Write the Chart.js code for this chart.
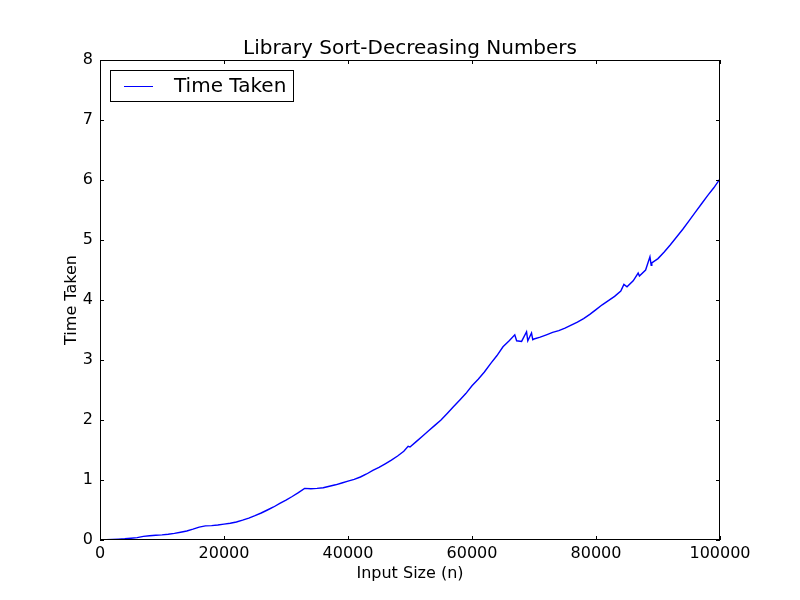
<!DOCTYPE html>
<html>
<head>
<meta charset="utf-8">
<script src="https://cdn.jsdelivr.net/npm/chart.js@4.4.1/dist/chart.umd.min.js"></script>
<style>
    body { margin: 0; background: #ffffff; }
</style>
</head>
<body>
<canvas id="graficoOrdenacao" width="800" height="600"></canvas>
<script>
const tituloGrafico = 'Library Sort-Decreasing Numbers';
const rotuloSerie = 'Time Taken';

// tamanho da entrada (n)
const tamanhos = [
    0, 1000, 2000, 3000, 4000, 5000, 6000, 7000, 8000, 9000,
    10000, 11000, 12000, 13000, 14000, 15000, 16000, 17000, 18000, 19000,
    20000, 21000, 22000, 23000, 24000, 25000, 26000, 27000, 28000, 29000,
    30000, 31000, 32000, 33000, 34000, 35000, 36000, 37000, 38000, 39000,
    40000, 41000, 42000, 43000, 44000, 45000, 46000, 47000, 48000, 49000,
    49700, 50000, 51000, 52000, 53000, 54000, 55000, 56000, 57000, 58000,
    59000, 60000, 61000, 62000, 63000, 64000, 65000, 66000, 66900, 67200,
    68000, 68800, 69000, 69600, 69800, 70000, 71000, 72000, 73000, 74000,
    75000, 76000, 77000, 78000, 79000, 80000, 81000, 82000, 83000, 84000,
    84500, 85000, 86000, 86800, 87000, 88000, 88700, 88900, 89000, 90000,
    91000, 92000, 93000, 94000, 95000, 96000, 97000, 98000, 99000, 100000
];

// tempo gasto
const tempos = [
    0, 0.005, 0.01, 0.015, 0.02, 0.03, 0.04, 0.06, 0.07, 0.078,
    0.085, 0.095, 0.11, 0.13, 0.15, 0.18, 0.215, 0.235, 0.24, 0.25,
    0.265, 0.28, 0.30, 0.33, 0.365, 0.405, 0.45, 0.50, 0.55, 0.61,
    0.665, 0.725, 0.79, 0.86, 0.855, 0.86, 0.87, 0.895, 0.92, 0.95,
    0.98, 1.01, 1.05, 1.10, 1.16, 1.21, 1.27, 1.33, 1.40, 1.48,
    1.56, 1.55, 1.64, 1.73, 1.82, 1.91, 2.00, 2.11, 2.22, 2.33,
    2.44, 2.57, 2.68, 2.80, 2.94, 3.07, 3.22, 3.32, 3.42, 3.32,
    3.31, 3.47, 3.32, 3.45, 3.34, 3.35, 3.38, 3.42, 3.46, 3.49,
    3.53, 3.58, 3.63, 3.69, 3.76, 3.84, 3.92, 3.99, 4.06, 4.15,
    4.26, 4.22, 4.32, 4.45, 4.40, 4.50, 4.72, 4.58, 4.62, 4.69,
    4.80, 4.92, 5.05, 5.18, 5.32, 5.46, 5.60, 5.74, 5.87, 6.02
];

const ticksX = [0, 20000, 40000, 60000, 80000, 100000];
const ticksY = [0, 1, 2, 3, 4, 5, 6, 7, 8];

const fonte = 'DejaVu Sans';

// moldura no estilo do matplotlib: caixa, ticks para dentro, legenda e titulo
const molduraMatplotlib = {
    id: 'molduraMatplotlib',
    afterDraw(chart) {
        const ctx = chart.ctx;
        const area = chart.chartArea;
        const escalaX = chart.scales.x;
        const escalaY = chart.scales.y;
        ctx.save();
        ctx.strokeStyle = '#000000';
        ctx.lineWidth = 1;
        ctx.strokeRect(area.left + 0.5, area.top + 0.5, area.right - area.left - 1, area.bottom - area.top - 1);

        ctx.beginPath();
        ticksX.forEach(v => {
            let px = Math.round(escalaX.getPixelForValue(v)) + 0.5;
            ctx.moveTo(px, area.bottom);
            ctx.lineTo(px, area.bottom - 4);
            ctx.moveTo(px, area.top);
            ctx.lineTo(px, area.top + 4);
        });
        ticksY.forEach(v => {
            let py = Math.round(escalaY.getPixelForValue(v)) + 0.5;
            ctx.moveTo(area.left, py);
            ctx.lineTo(area.left + 4, py);
            ctx.moveTo(area.right, py);
            ctx.lineTo(area.right - 4, py);
        });
        ctx.stroke();

        // titulo
        ctx.fillStyle = '#000000';
        ctx.font = '20px "' + fonte + '"';
        ctx.textAlign = 'center';
        ctx.textBaseline = 'alphabetic';
        ctx.fillText(tituloGrafico, (area.left + area.right) / 2, 54);

        // legenda
        ctx.fillStyle = '#ffffff';
        ctx.fillRect(110.5, 70.5, 183, 31);
        ctx.strokeRect(110.5, 70.5, 183, 31);
        ctx.strokeStyle = '#0000ff';
        ctx.beginPath();
        ctx.moveTo(124, 86.5);
        ctx.lineTo(153, 86.5);
        ctx.stroke();
        ctx.fillStyle = '#000000';
        ctx.textAlign = 'left';
        ctx.textBaseline = 'middle';
        ctx.fillText(rotuloSerie, 174, 87);
        ctx.restore();
    }
};

const graficoOrdenacao = new Chart(document.getElementById('graficoOrdenacao'), {
    type: 'line',
    data: {
        labels: tamanhos,
        datasets: [{
            label: rotuloSerie,
            data: tamanhos.map((n, i) => ({ x: n, y: tempos[i] })),
            borderColor: '#0000ff',
            backgroundColor: '#0000ff',
            borderWidth: 1.4,
            pointRadius: 0,
            tension: 0,
            fill: false
        }]
    },
    options: {
        responsive: false,
        animation: false,
        devicePixelRatio: 1,
        layout: { padding: { top: 60, right: 80, left: 0, bottom: 0 } },
        plugins: {
            legend: { display: false },
            title: { display: false },
            tooltip: { enabled: false }
        },
        scales: {
            x: {
                type: 'linear',
                position: 'bottom',
                min: 0,
                max: 100000,
                afterBuildTicks: escala => { escala.ticks = ticksX.map(v => ({ value: v })); },
                afterFit: escala => { escala.height = 60; },
                grid: { display: false, drawTicks: false },
                border: { display: false },
                ticks: {
                    color: '#000000',
                    font: { family: fonte, size: 16 },
                    padding: 4,
                    maxRotation: 0,
                    autoSkip: false,
                    callback: v => String(v)
                },
                title: {
                    display: true,
                    text: 'Input Size (n)',
                    color: '#000000',
                    font: { family: fonte, size: 16 },
                    padding: { top: 0, bottom: 17 }
                }
            },
            y: {
                type: 'linear',
                min: 0,
                max: 8,
                afterBuildTicks: escala => { escala.ticks = ticksY.map(v => ({ value: v })); },
                afterFit: escala => { escala.width = 100; },
                grid: { display: false, drawTicks: false },
                border: { display: false },
                ticks: {
                    color: '#000000',
                    font: { family: fonte, size: 16 },
                    padding: 7,
                    autoSkip: false,
                    callback: v => String(v)
                },
                title: {
                    display: true,
                    text: 'Time Taken',
                    color: '#000000',
                    font: { family: fonte, size: 16 },
                    padding: { top: 62, bottom: 0 }
                }
            }
        }
    },
    plugins: [molduraMatplotlib]
});
</script>
</body>
</html>
